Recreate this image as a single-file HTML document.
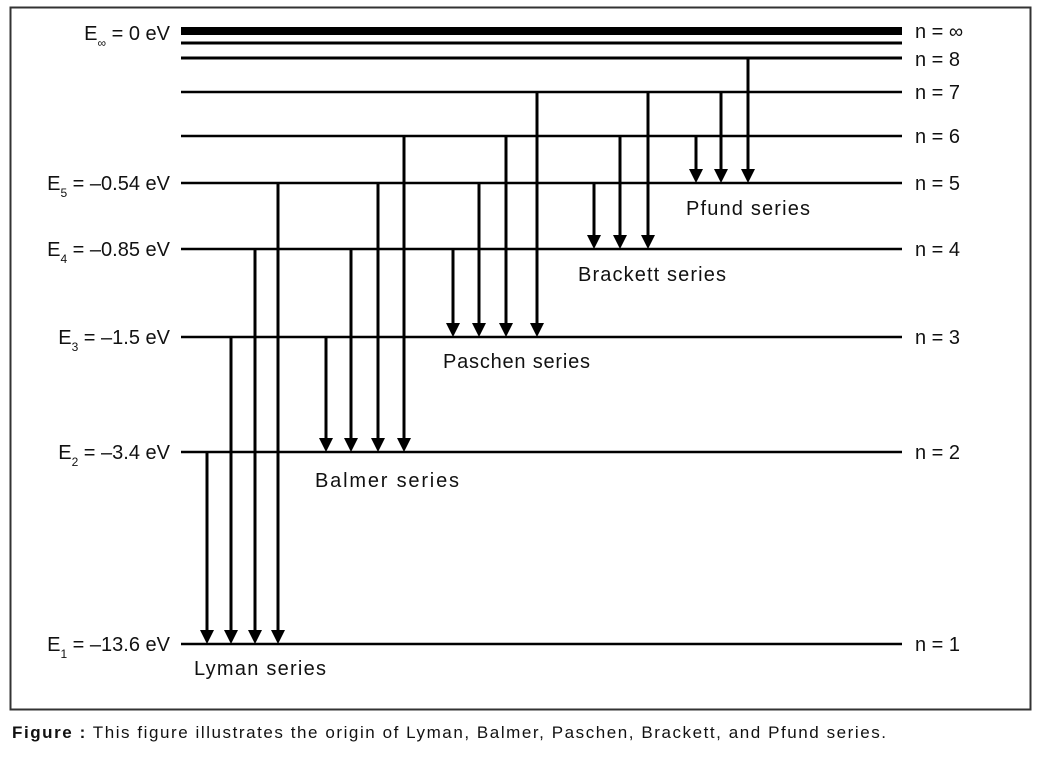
<!DOCTYPE html>
<html><head><style>
body{margin:0;background:#fff;width:1050px;height:754px;overflow:hidden;font-family:"Liberation Sans",sans-serif}
</style></head><body>
<svg width="1050" height="754" xmlns="http://www.w3.org/2000/svg" font-family="Liberation Sans, sans-serif">
<rect x="10.5" y="7.5" width="1020" height="702" fill="none" stroke="#333" stroke-width="2"/>
<g stroke="#000">
<line x1="181" x2="902" y1="31" y2="31" stroke-width="8"/>
<line x1="181" x2="902" y1="43" y2="43" stroke-width="3"/>
<line x1="181" x2="902" y1="58" y2="58" stroke-width="3"/>
<line x1="181" x2="902" y1="92" y2="92" stroke-width="2.5"/>
<line x1="181" x2="902" y1="136" y2="136" stroke-width="2.5"/>
<line x1="181" x2="902" y1="183" y2="183" stroke-width="2.5"/>
<line x1="181" x2="902" y1="249" y2="249" stroke-width="2.5"/>
<line x1="181" x2="902" y1="337" y2="337" stroke-width="2.5"/>
<line x1="181" x2="902" y1="452" y2="452" stroke-width="2.5"/>
<line x1="181" x2="902" y1="644" y2="644" stroke-width="2.5"/>
</g>
<g stroke="#000" stroke-width="3" fill="#000">
<line x1="207" y1="452" x2="207" y2="632"/><polygon points="200,630 214,630 207,644" stroke="none"/>
<line x1="231" y1="337" x2="231" y2="632"/><polygon points="224,630 238,630 231,644" stroke="none"/>
<line x1="255" y1="249" x2="255" y2="632"/><polygon points="248,630 262,630 255,644" stroke="none"/>
<line x1="278" y1="183" x2="278" y2="632"/><polygon points="271,630 285,630 278,644" stroke="none"/>
<line x1="326" y1="337" x2="326" y2="440"/><polygon points="319,438 333,438 326,452" stroke="none"/>
<line x1="351" y1="249" x2="351" y2="440"/><polygon points="344,438 358,438 351,452" stroke="none"/>
<line x1="378" y1="183" x2="378" y2="440"/><polygon points="371,438 385,438 378,452" stroke="none"/>
<line x1="404" y1="136" x2="404" y2="440"/><polygon points="397,438 411,438 404,452" stroke="none"/>
<line x1="453" y1="249" x2="453" y2="325"/><polygon points="446,323 460,323 453,337" stroke="none"/>
<line x1="479" y1="183" x2="479" y2="325"/><polygon points="472,323 486,323 479,337" stroke="none"/>
<line x1="506" y1="136" x2="506" y2="325"/><polygon points="499,323 513,323 506,337" stroke="none"/>
<line x1="537" y1="92" x2="537" y2="325"/><polygon points="530,323 544,323 537,337" stroke="none"/>
<line x1="594" y1="183" x2="594" y2="237"/><polygon points="587,235 601,235 594,249" stroke="none"/>
<line x1="620" y1="136" x2="620" y2="237"/><polygon points="613,235 627,235 620,249" stroke="none"/>
<line x1="648" y1="92" x2="648" y2="237"/><polygon points="641,235 655,235 648,249" stroke="none"/>
<line x1="696" y1="136" x2="696" y2="171"/><polygon points="689,169 703,169 696,183" stroke="none"/>
<line x1="721" y1="92" x2="721" y2="171"/><polygon points="714,169 728,169 721,183" stroke="none"/>
<line x1="748" y1="58" x2="748" y2="171"/><polygon points="741,169 755,169 748,183" stroke="none"/>
</g>
<g font-size="20" fill="#111">
<text x="915" y="38">n = ∞</text>
<text x="915" y="66">n = 8</text>
<text x="915" y="99">n = 7</text>
<text x="915" y="143">n = 6</text>
<text x="915" y="190">n = 5</text>
<text x="915" y="256">n = 4</text>
<text x="915" y="344">n = 3</text>
<text x="915" y="459">n = 2</text>
<text x="915" y="651">n = 1</text>
</g>
<g font-size="20" fill="#111" text-anchor="end">
<text x="170" y="40">E<tspan font-size="12" dy="7">∞</tspan><tspan dy="-7"> = 0 eV</tspan></text>
<text x="170" y="190">E<tspan font-size="12" dy="7">5</tspan><tspan dy="-7"> = –0.54 eV</tspan></text>
<text x="170" y="256">E<tspan font-size="12" dy="7">4</tspan><tspan dy="-7"> = –0.85 eV</tspan></text>
<text x="170" y="344">E<tspan font-size="12" dy="7">3</tspan><tspan dy="-7"> = –1.5 eV</tspan></text>
<text x="170" y="459">E<tspan font-size="12" dy="7">2</tspan><tspan dy="-7"> = –3.4 eV</tspan></text>
<text x="170" y="651">E<tspan font-size="12" dy="7">1</tspan><tspan dy="-7"> = –13.6 eV</tspan></text>
</g>
<g font-size="20" fill="#111">
<text x="686" y="215" textLength="124">Pfund series</text>
<text x="578" y="281" textLength="148">Brackett series</text>
<text x="443" y="368" textLength="147">Paschen series</text>
<text x="315" y="487" textLength="144">Balmer  series</text>
<text x="194" y="675" textLength="132">Lyman series</text>
</g>
<text x="12" y="738" font-size="17" fill="#111" textLength="874"><tspan font-weight="bold">Figure :</tspan> This figure illustrates the origin of Lyman, Balmer, Paschen, Brackett, and Pfund series.</text>
</svg>
</body></html>
